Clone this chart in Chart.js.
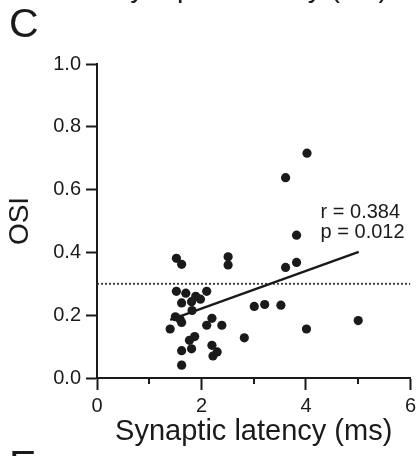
<!DOCTYPE html>
<html>
<head>
<meta charset="utf-8">
<script src="https://cdn.jsdelivr.net/npm/chart.js@4.4.0/dist/chart.umd.min.js"></script>
<style>
html,body{margin:0;padding:0;background:#fff;}
#wrap{width:420px;height:456px;position:relative;}
</style>
</head>
<body>
<div id="wrap"><canvas id="c" width="420" height="456"></canvas></div>
<script>
// Synaptic latency (ms) and OSI values
const latency = [1.52,1.62,2.51,2.51,3.61,3.82,3.82,3.61,4.02,
  1.52,1.70,1.89,2.10,1.62,1.81,1.98,1.82,1.50,1.62,1.40,2.20,2.10,2.39,
  3.01,3.21,3.52,2.82,4.01,5.00,1.77,1.87,1.62,1.81,2.20,2.30,2.22,1.62,1.59];
const osi = [0.381,0.362,0.386,0.360,0.352,0.368,0.455,0.638,0.716,
  0.276,0.270,0.260,0.276,0.239,0.243,0.251,0.215,0.195,0.177,0.156,0.190,0.168,0.168,
  0.228,0.234,0.232,0.128,0.156,0.183,0.120,0.132,0.087,0.093,0.104,0.083,0.070,0.041,0.187];
// regression line end points
const fitX = [1.40, 5.01];
const fitY = [0.185, 0.402];
// reference threshold
const refX = [0, 6];
const refY = [0.3, 0.3];
const xTickLabels = ['0','','2','','4','','6'];
const yTickLabels = ['0.0','0.2','0.4','0.6','0.8','1.0'];
const statLines = ['r = 0.384','p = 0.012'];

const FONT = "'Liberation Sans', Arial, Helvetica, sans-serif";
const INK = '#1a1a1a';
Chart.defaults.font.family = FONT;

const pts = latency.map((x,i)=>({x:x,y:osi[i]}));
const fit = fitX.map((x,i)=>({x:x,y:fitY[i]}));
const ref = refX.map((x,i)=>({x:x,y:refY[i]}));

const extras = {
  id:'extras',
  afterDraw(chart){
    const ctx = chart.ctx;
    const xs = chart.scales.x, ys = chart.scales.y;
    ctx.save();
    // minor x ticks
    ctx.strokeStyle = INK; ctx.lineWidth = 2;
    [1,3,5].forEach(v=>{
      const px = Math.round(xs.getPixelForValue(v));
      ctx.beginPath(); ctx.moveTo(px, ys.bottom); ctx.lineTo(px, ys.bottom+6); ctx.stroke();
    });
    ctx.fillStyle = INK;
    ctx.textBaseline = 'alphabetic';
    ctx.textAlign = 'left';
    // panel letters
    ctx.font = '41px ' + FONT;
    ctx.fillText('C', 9, 37);
    ctx.fillText('E', 9, 479);
    // label of panel above (cut off)
    ctx.font = '29px ' + FONT;
    ctx.fillText('Synaptic latency (ms)', 111, -3);
    // stats
    ctx.font = '20px ' + FONT;
    const sx = xs.getPixelForValue(4.28);
    ctx.fillText(statLines[0], sx, ys.getPixelForValue(0.509));
    ctx.fillText(statLines[1], sx, ys.getPixelForValue(0.446));
    ctx.restore();
  }
};

new Chart(document.getElementById('c'), {
  type:'scatter',
  data:{
    datasets:[
      {data:pts, type:'scatter', backgroundColor:INK, borderWidth:0, pointRadius:4.6, order:0},
      {data:fit, type:'line', showLine:true, borderColor:INK, borderWidth:2.4, pointRadius:0, fill:false, order:1},
      {data:ref, type:'line', showLine:true, borderColor:'#333', borderWidth:1.8, borderDash:[2,2], pointRadius:0, fill:false, order:2}
    ]
  },
  options:{
    responsive:false,
    animation:false,
    events:[],
    layout:{padding:{left:0,right:9,top:64,bottom:0}},
    plugins:{legend:{display:false}, tooltip:{enabled:false}},
    scales:{
      x:{
        type:'linear', min:0, max:6,
        afterFit(s){ s.height = 78; },
        afterBuildTicks(s){ s.ticks = xTickLabels.map((l,i)=>({value:i})); },
        ticks:{autoSkip:false, maxRotation:0, padding:4, color:INK,
          font:{size:20}, callback:(v,i)=>xTickLabels[i]},
        grid:{drawOnChartArea:false, drawTicks:true, tickLength:12, tickWidth:2,
          tickColor:(c)=> (c.tick && c.tick.value%2===0) ? INK : 'rgba(0,0,0,0)'},
        border:{display:true, width:2, color:INK},
        title:{display:true, text:'Synaptic latency (ms)', color:INK,
          font:{size:29}, padding:{top:0,bottom:7}}
      },
      y:{
        min:0, max:1,
        afterFit(s){ s.width = 97; },
        afterBuildTicks(s){ s.ticks = yTickLabels.map((l,i)=>({value:i*0.2})); },
        ticks:{padding:5, color:INK, font:{size:20}, callback:(v,i)=>yTickLabels[i]},
        grid:{drawOnChartArea:false, drawTicks:true, tickLength:11, tickWidth:2, tickColor:INK},
        border:{display:true, width:2, color:INK},
        title:{display:true, text:'OSI', color:INK, font:{size:28}, padding:{top:3,bottom:0}}
      }
    }
  },
  plugins:[extras]
});
</script>
</body>
</html>
